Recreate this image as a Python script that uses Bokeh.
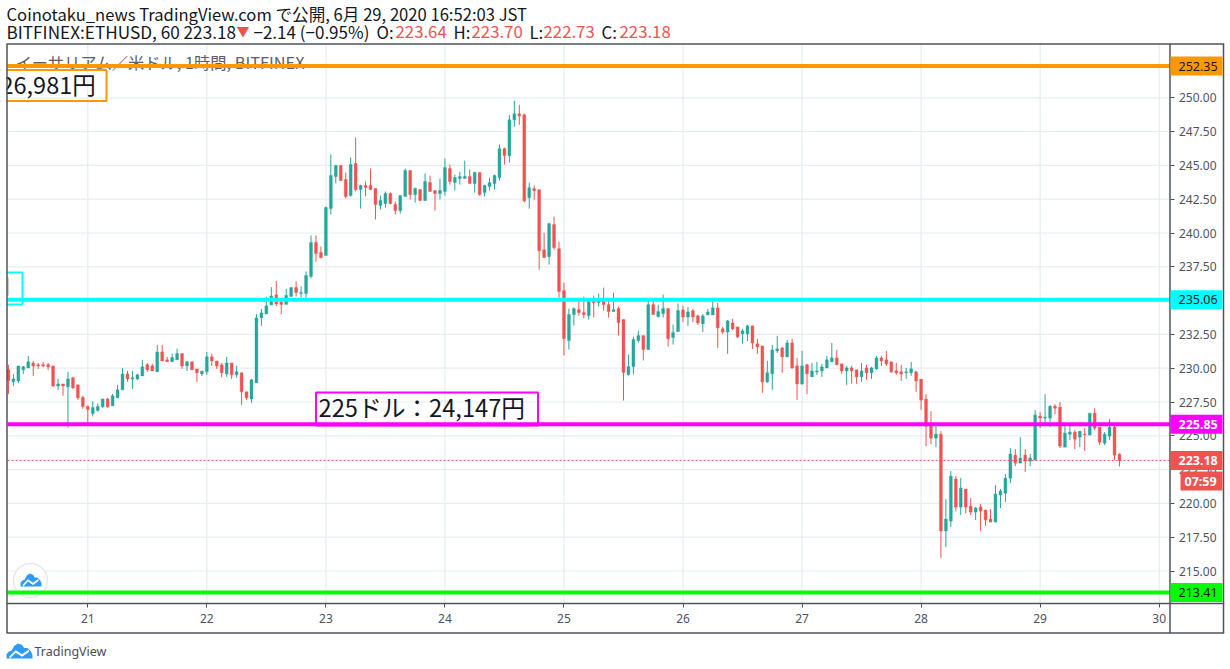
from bokeh.plotting import figure
from bokeh.models import FixedTicker, Range1d, ColumnDataSource
from bokeh.core.properties import value
from bokeh.embed import file_html
from bokeh.resources import INLINE

# ---------- data (prices, one candle per hour; hour 0 = 21st 00:00)
first_hour = -16
opens = [
 229.88,228.99,229.06,229.88,230.02,230.39,230.25,230.25,230.25,230.17,228.69,228.84,228.62,229.29,228.77,227.83,
 227.17,226.65,226.87,227.14,227.73,227.22,227.81,228.40,229.58,229.21,229.21,229.43,230.25,230.17,229.73,231.20,230.62,230.47,230.62,231.08,230.17,230.47,229.95,229.58,229.73,230.84,230.54,230.25,229.58,230.39,229.51,229.66,228.25,227.73,228.92,233.72,234.01,234.68,235.42,
 234.89,234.72,235.31,235.97,235.53,235.53,236.79,239.30,238.56,238.34,241.81,244.17,244.99,243.95,242.77,245.14,243.21,243.51,243.51,243.29,242.03,242.18,242.92,242.11,241.66,242.70,244.62,242.84,243.21,242.40,243.73,243.14,242.92,243.07,244.77,243.73,244.03,244.03,244.17,243.66,244.47,242.99,243.44,243.66,244.10,246.24,
 245.71,248.37,248.82,248.74,242.61,243.28,243.20,238.77,238.25,240.62,238.84,235.74,232.04,233.97,234.33,234.11,233.89,235.00,234.85,235.00,234.70,234.19,234.41,233.60,229.53,230.12,232.04,232.41,231.38,234.70,233.82,234.04,234.41,232.27,232.71,
 234.31,233.79,234.24,233.87,233.28,233.94,233.94,234.46,232.91,232.68,233.35,233.05,232.54,232.54,233.13,231.80,231.65,228.99,229.58,231.28,231.50,230.84,231.87,230.17,228.84,230.25,229.36,229.73,229.80,230.02,230.47,230.76,230.32,229.80,230.02,229.88,229.36,230.02,229.66,229.95,230.76,230.62,230.47,229.80,229.73,229.66,229.66,229.73,
 229.19,227.71,225.79,224.83,225.12,217.96,218.69,221.80,219.73,221.06,219.80,219.36,219.73,219.51,218.84,218.62,220.62,220.76,221.87,223.57,222.98,223.57,223.13,223.20,226.45,226.31,226.31,227.19,227.12,224.16,225.12,225.27,224.90,225.12,225.05,226.67,225.64,224.46,224.98,225.64,223.64,
]
closes = [
 229.09,229.21,230.17,230.10,230.47,230.17,230.17,230.17,230.10,228.69,228.84,228.69,229.21,228.55,227.81,227.17,
 226.95,227.09,227.17,227.73,227.14,227.96,228.40,229.58,229.21,229.29,229.51,230.10,229.88,229.80,231.20,230.54,230.47,230.79,231.08,230.17,230.47,229.88,229.66,229.80,230.84,230.54,230.17,229.66,230.39,229.51,229.73,228.25,227.81,229.14,233.72,234.09,234.61,235.34,234.75,
 234.72,235.38,235.97,235.60,235.60,236.86,239.30,238.49,238.19,241.88,244.25,244.99,243.88,242.70,245.06,243.21,243.51,243.36,243.21,242.11,242.40,242.92,242.18,241.66,242.77,244.62,242.84,243.29,242.40,243.81,243.07,242.92,243.14,244.84,243.81,244.10,244.17,244.17,243.66,244.47,242.84,243.51,243.73,244.25,246.24,245.73,
 248.37,248.82,248.67,242.39,243.35,243.13,238.69,238.18,240.69,238.92,235.67,232.19,233.97,234.41,234.11,233.97,234.93,234.85,235.00,234.70,234.19,234.33,233.37,229.68,230.12,232.12,232.41,231.38,234.70,233.97,234.19,234.41,232.19,232.63,234.26,
 233.79,234.16,233.79,233.35,233.87,234.16,234.46,232.98,232.68,233.50,232.91,232.32,232.76,233.13,231.87,231.58,228.99,229.66,231.35,231.43,230.84,231.87,230.02,228.84,230.17,229.58,229.80,229.80,230.10,230.62,230.76,230.25,229.80,230.02,229.80,229.36,229.80,229.66,230.02,230.76,230.54,230.32,229.73,229.66,229.58,229.73,229.95,229.06,
 227.64,225.71,224.83,225.12,217.96,218.84,222.02,219.73,221.13,219.73,219.36,219.66,219.43,218.77,218.62,220.69,220.91,221.87,223.65,222.98,223.35,223.13,223.35,226.53,226.31,226.38,227.19,227.04,224.24,225.20,225.27,224.75,225.34,225.07,226.67,225.57,224.53,225.12,225.64,223.57,223.18,
]
highs = [
 230.25,229.56,230.17,230.17,230.90,230.54,230.39,230.47,230.39,230.17,229.21,228.84,229.73,229.36,228.77,227.96,
 227.24,227.54,227.39,227.73,227.81,228.10,228.77,230.02,229.80,229.80,229.58,230.62,230.39,230.32,231.72,231.72,230.84,231.08,231.45,231.08,230.54,230.47,229.95,229.80,231.20,231.06,230.54,230.39,230.84,230.39,230.17,229.66,228.25,229.21,234.01,234.38,235.27,236.00,236.45,
 235.01,235.87,235.97,236.42,236.05,237.16,239.82,239.82,239.00,241.96,245.80,244.99,244.99,244.47,245.58,247.06,243.58,243.81,244.77,243.29,242.77,243.07,242.99,242.33,242.77,244.77,244.62,243.36,243.21,244.40,244.25,243.14,244.03,245.50,245.06,244.32,244.54,245.36,244.69,244.54,244.47,243.58,244.10,244.32,246.54,246.32,
 248.74,249.78,249.48,248.82,243.72,243.50,243.20,240.02,240.76,241.21,239.36,236.33,234.41,234.48,235.07,235.30,235.00,235.37,235.52,235.96,235.15,235.59,234.56,233.60,231.01,232.34,232.78,232.41,235.15,235.00,234.70,235.44,234.41,233.23,234.78,
 234.61,234.53,234.38,233.94,234.01,234.38,235.12,234.83,233.05,233.57,233.65,233.05,232.91,233.20,233.13,232.17,231.65,230.54,231.72,232.39,231.58,232.09,232.17,230.76,231.28,230.32,230.39,230.47,230.32,230.91,231.87,231.35,230.32,230.17,230.17,229.88,230.39,230.25,230.10,230.91,230.91,231.28,230.47,230.39,230.25,230.02,230.47,229.80,
 229.19,228.08,226.82,225.71,225.34,220.32,222.39,222.02,221.87,221.06,220.39,219.73,219.95,219.51,219.58,221.35,221.06,222.17,224.09,224.01,224.90,224.01,223.65,226.90,226.75,228.08,227.27,227.34,227.49,225.79,225.71,225.42,225.34,225.57,226.67,227.04,225.64,225.27,226.23,225.85,223.70,
]
lows = [
 228.10,228.69,228.90,229.58,230.02,229.43,229.95,230.07,229.88,228.62,228.40,227.96,225.60,228.47,227.66,227.00,
 225.90,226.43,226.80,227.07,227.07,227.22,227.81,228.40,228.99,228.47,229.14,229.43,229.73,229.80,229.73,230.54,230.47,230.47,230.62,229.95,229.80,229.88,228.99,229.43,229.51,230.17,229.95,229.33,229.36,229.21,229.29,227.29,227.66,227.44,228.92,233.13,234.01,234.68,234.60,
 233.98,234.72,235.31,235.31,235.23,235.23,236.64,237.89,238.12,238.34,241.37,243.66,243.88,242.55,242.70,243.07,241.81,242.70,243.21,241.00,241.74,241.88,242.11,241.37,241.44,242.70,242.48,242.25,242.40,242.40,243.07,241.66,242.48,242.77,243.58,243.14,243.58,244.03,243.66,242.99,242.77,242.70,243.14,243.21,243.88,245.06,
 245.20,247.86,248.00,242.24,241.80,242.46,237.29,238.18,237.66,238.77,235.22,230.94,231.38,233.15,233.89,233.67,233.60,233.74,234.56,234.26,233.74,234.19,232.41,227.61,229.46,229.53,231.90,230.57,231.38,233.97,233.74,233.74,231.60,231.75,232.71,
 233.42,233.13,233.42,233.20,232.68,233.94,233.94,231.50,232.54,231.06,232.83,232.24,231.80,232.02,231.43,231.06,228.18,228.92,228.40,231.13,229.66,230.84,229.95,227.66,228.77,228.10,229.36,229.51,229.36,230.02,230.47,230.25,229.58,228.77,228.84,228.84,228.99,229.14,229.21,229.88,230.17,230.17,229.66,229.51,229.06,229.21,229.43,228.25,
 226.92,224.24,224.38,224.16,215.96,216.77,218.25,219.41,219.14,219.29,219.14,218.77,217.96,218.33,218.62,218.62,219.66,220.10,221.50,222.76,222.98,222.32,222.76,223.20,225.57,225.71,225.64,226.60,224.09,224.16,224.68,224.01,224.16,223.87,225.05,225.42,224.31,224.31,224.68,223.20,222.73,
]
day_labels = ["21", "22", "23", "24", "25", "26", "27", "28", "29", "30"]
price_ticks = [215.0, 217.5, 220.0, 222.5, 225.0, 227.5, 230.0, 232.5, 235.0, 237.5, 240.0, 242.5, 245.0, 247.5, 250.0]
level_prices = [252.35, 235.06, 225.85, 213.41]
level_colors = ["#ff9800", "#00ffff", "#ff00ff", "#00ff00"]
level_text = ["#131722", "#131722", "#ffffff", "#131722"]
last_price = 223.18

assert len(opens) == len(closes) == len(highs) == len(lows) == 225

# ---------- geometry: the frame fills the page, the pane is one part of it
W, H = 1230, 669
F_L, F_R, F_T, F_B = 7, 1169.5, 43.5, 603
PX_H = 4.96; X0 = 87.3                          # px/hour, px of hour 0
PX_P = 13.52; Y0 = 435.3                        # px/unit, px of 225.00
X = lambda px: (px - X0) / PX_H
Y = lambda py: 225 + (Y0 - py) / PX_P
py_of = lambda price: Y0 - (price - 225) * PX_P

UP, DOWN = "#26a69a", "#ef5350"
AX = "#50535e"
INK = "#131722"
JP = "Noto Sans CJK JP"

p = figure(width=W, height=H, output_backend="svg", toolbar_location=None,
           x_range=Range1d(X(0), X(W)), y_range=Range1d(Y(H), Y(0)),
           y_axis_location="right", min_border=0,
           background_fill_color="#ffffff", border_fill_color="#ffffff")
p.outline_line_color = None
p.grid.visible = False

day_ticks = [24 * i for i in range(len(day_labels))]
p.xaxis.ticker = FixedTicker(ticks=day_ticks)
p.xaxis.major_label_overrides = dict(zip(day_ticks, day_labels))
p.xaxis.fixed_location = Y(F_B)
p.yaxis.ticker = FixedTicker(ticks=price_ticks)
p.yaxis.major_label_overrides = {v: f"{v:.2f}" for v in price_ticks}
p.yaxis.fixed_location = X(F_R)
for ax in (p.xaxis[0], p.yaxis[0]):
    ax.axis_line_color = None
    ax.major_tick_line_color = AX
    ax.major_tick_line_width = 1
    ax.major_tick_out = 4
    ax.major_tick_in = 0
    ax.minor_tick_line_color = None
    ax.major_label_text_color = AX
    ax.major_label_text_font = "Noto Sans"
    ax.major_label_text_font_size = "12px"
p.xaxis.major_label_standoff = 6
p.yaxis.major_label_standoff = 5


def txt(x, y, text, size="16.5px", color=INK, font=JP, style="normal", align="left", level="overlay"):
    p.text([X(x)], [Y(y)], [text], text_font=value(font), text_font_size=size, text_color=color,
           text_baseline="middle", text_align=align, text_font_style=style, level=level)


def rect(l, r, t, b, col, level="overlay"):
    p.quad(left=[X(l)], right=[X(r)], top=[Y(t)], bottom=[Y(b)], fill_color=col, line_color=None, level=level)


def hline(x0, x1, y, col, w, level="glyph"):
    p.segment([X(x0)], [Y(y)], [X(x1)], [Y(y)], line_color=col, line_width=w, level=level)


def vline(x, y0, y1, col, w, level="glyph"):
    p.segment([X(x)], [Y(y0)], [X(x)], [Y(y1)], line_color=col, line_width=w, level=level)


def cloud(x, y, w, h, col, level="glyph"):
    shape = [(0, 1), (0, .72), (.08, .55), (.2, .47), (.3, .15), (.45, 0), (.6, .1), (.68, .3), (.8, .3),
             (.93, .5), (1, .75), (1, 1)]
    zig = [(.1, .88), (.35, .45), (.6, .72), (.85, .42), (.87, .55), (.6, .88), (.35, .62), (.14, .98)]
    for pts, c in ((shape, col), (zig, "#ffffff")):
        p.patch([X(x + a * w) for a, _ in pts], [Y(y + b * h) for _, b in pts], fill_color=c, line_color=None, level=level)


# ---------- grid lines of the pane
GRID = "#e4edf3"
p.segment(day_ticks, [Y(F_T)] * len(day_ticks), day_ticks, [Y(F_B)] * len(day_ticks), line_color=GRID, line_width=1.2)
p.segment([X(F_L)] * len(price_ticks), price_ticks, [X(F_R)] * len(price_ticks), price_ticks, line_color=GRID, line_width=1.2)

# ---------- candles
hours = [first_hour + i for i in range(len(opens))]
colors = [UP if c >= o else DOWN for o, c in zip(opens, closes)]
src = ColumnDataSource(dict(t=hours, o=opens, c=closes, h=highs, l=lows, col=colors))
p.segment("t", "h", "t", "l", source=src, line_color="col", line_width=1)
p.vbar("t", 0.58, "o", "c", source=src, fill_color="col", line_color="col", line_width=0.4)

# ---------- watermark
txt(15, 61, "イーサリアム／米ドル, 1時間, BITFINEX", size="16.3px", color="#5d606b", level="glyph")

# ---------- drawing boxes on the chart
for l, r, t, b, col in ((-5, 106, 69.5, 100.5, "#ff9800"), (-5, 22, 272, 304, "#00ffff"), (315.5, 537.5, 392, 425, "#ff00ff")):
    p.quad(left=[X(l)], right=[X(r)], top=[Y(t)], bottom=[Y(b)], fill_color=None, line_color=col, line_width=2)
txt(0, 83.5, "26,981円", size="23.5px", level="glyph")
txt(318, 406.5, "225ドル：24,147円", size="23.7px", level="glyph")
vline(7.5, 277, 295, "#bdbdbd", 1.5)

# ---------- round logo under the level lines
p.scatter([X(30)], [Y(580)], marker="circle", size=34, fill_color="#ffffff", line_color="#e6e8ee", line_width=1.5)
cloud(20, 573, 21, 13, "#2f9cf4")

# ---------- level lines and last-price line
for price, col in zip(level_prices, level_colors):
    p.segment([X(F_L)], [price], [X(F_R)], [price], line_color=col, line_width=4)
p.segment([X(F_L)], [last_price], [X(F_R)], [last_price], line_color=DOWN, line_width=1, line_dash="2 2")

# ---------- what lies left of the pane, then the frame of the widget
rect(0, 6, F_T, F_B, "#ffffff")
for x, y0, y1 in ((6.5, 43.5, 632.5), (1169.5, 43.5, 632.5), (1223, 43.5, 632.5)):
    vline(x, y0, y1, AX, 1.5, level="overlay")
for y, x0, x1 in ((43.5, 6, 1223.7), (603, 6, 1223.7), (632.5, 6, 1223.7)):
    hline(x0, x1, y, AX, 1.5, level="overlay")

# ---------- tags on the price scale
for price, col, tc in zip(level_prices, level_colors, level_text):
    py = py_of(price)
    rect(1170, 1222, py - 9.5, py + 9.5, col)
    txt(1178, py, f"{price:.2f}", size="12.5px", color=tc, font="Noto Sans", style="bold" if tc == "#ffffff" else "normal")
py = py_of(last_price)
rect(1170, 1222, py - 9.5, py + 9.5, DOWN)
txt(1178, py, f"{last_price:.2f}", size="12.5px", color="#ffffff", font="Noto Sans", style="bold")
rect(1180, 1222, 471, 490, DOWN)
txt(1184, 481, "07:59", size="12.5px", color="#ffffff", font="Noto Sans", style="bold")

# ---------- header
txt(6, 13, "Coinotaku_news TradingView.com で公開, 6月 29, 2020 16:52:03 JST", size="16.6px")
txt(6, 31, "BITFINEX:ETHUSD, 60 223.18", size="17.2px")
txt(236, 29.5, "▼", size="13px", color=DOWN)
txt(253, 31, "−2.14 (−0.95%)", size="17px")
for x, t, c in ((376, "O:", INK), (395, "223.64", DOWN), (453, "H:", INK), (471, "223.70", DOWN),
                (529, "L:", INK), (543, "222.73", DOWN), (601, "C:", INK), (619, "223.18", DOWN)):
    txt(x, 31, t, color=c, size="16.8px")

# ---------- footer
cloud(6, 643, 26, 15, "#2f9cf4")
txt(34, 651, "TradingView", size="12.5px", color="#4a4d57", font="Noto Sans")

open("out.html", "w").write(file_html(p, INLINE))
